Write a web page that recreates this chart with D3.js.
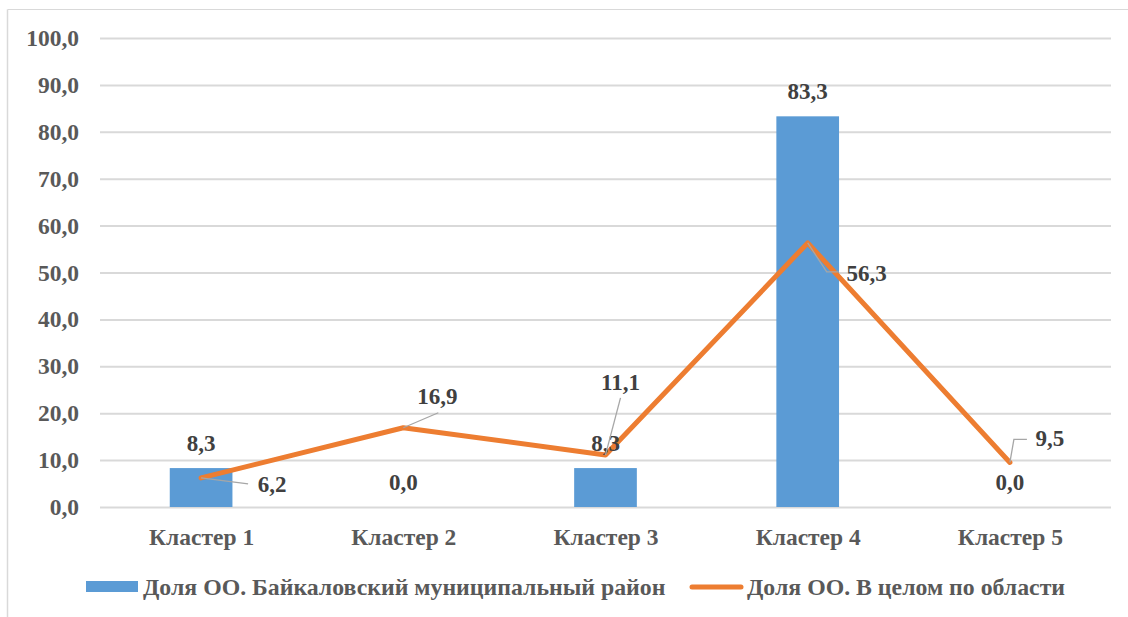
<!DOCTYPE html>
<html><head><meta charset="utf-8">
<script src="https://cdn.jsdelivr.net/npm/d3@7"></script>
<style>body{margin:0;background:#fff}svg{display:block}</style>
</head><body>
<svg id="c" width="1128" height="617"></svg>
<script>
const categories = ["Кластер 1","Кластер 2","Кластер 3","Кластер 4","Кластер 5"];
const barValues = [8.3, 0.0, 8.3, 83.3, 0.0];
const lineValues = [6.2, 16.9, 11.1, 56.3, 9.5];
const yTicks = [0,10,20,30,40,50,60,70,80,90,100];
const seriesNames = ["Доля ОО. Байкаловский муниципальный район","Доля ОО. В целом по области"];

const fmt = v => v.toFixed(1).replace(".", ",");
const svg = d3.select("#c");
const font = "Liberation Serif";

// chart frame (top and left edges visible)
svg.append("line").attr("x1",7.5).attr("x2",1128).attr("y1",9.5).attr("y2",9.5).attr("stroke","#d9d9d9");
svg.append("line").attr("x1",7.5).attr("x2",7.5).attr("y1",9.5).attr("y2",617).attr("stroke","#d9d9d9").attr("stroke-width",1.5);

const x = d3.scalePoint().domain(categories).range([100,1111]).padding(0.5);
const step = x.step();
const barW = step*0.31;
const y = d3.scaleLinear().domain([0,100]).range([507,38]);

// gridlines + y labels
const yAxis = d3.axisLeft(y).tickValues(yTicks).tickFormat(fmt).tickSize(-(1111-100));
const gy = svg.append("g").attr("transform","translate(100,0)").call(yAxis);
gy.attr("font-family",font);
gy.select(".domain").remove();
gy.selectAll(".tick line").attr("stroke","#d9d9d9").attr("stroke-width",2);
gy.selectAll(".tick text").style("font-family",font).attr("font-weight","bold").attr("font-size",23.5).attr("fill","#595959").attr("x",-21).attr("dy","0.32em");

// x axis labels
const xAxis = d3.axisBottom(x).tickSize(0).tickPadding(21);
const gx = svg.append("g").attr("transform","translate(0,507)").call(xAxis);
gx.attr("font-family",font);
gx.select(".domain").remove();
gx.selectAll(".tick text").style("font-family",font).attr("font-weight","bold").attr("font-size",23.5).attr("fill","#595959");

// bars
svg.append("g").selectAll("rect").data(barValues).join("rect")
  .attr("x",(d,i)=>x(categories[i])-barW/2)
  .attr("y",d=>y(d)).attr("width",barW).attr("height",d=>y(0)-y(d))
  .attr("fill","#5b9bd5");

// line
const line = d3.line().x((d,i)=>x(categories[i])).y(d=>y(d));
svg.append("path").datum(lineValues).attr("d",line).attr("fill","none")
  .attr("stroke","#ed7d31").attr("stroke-width",5).attr("stroke-linejoin","round").attr("stroke-linecap","round");

// bar labels
const labelStyle = s => s.style("font-family",font).attr("font-weight","bold").attr("font-size",23).attr("fill","#404040").attr("text-anchor","middle");
svg.append("g").selectAll("text").data(barValues).join("text")
  .attr("x",(d,i)=>x(categories[i]))
  .attr("y",d=>y(d)-17)
  .text(fmt).call(labelStyle);

// line labels with leader lines (offsets relative to the point: label center x, baseline y, leader path)
const lineLabelOffsets = [
  {lx:71, ly:14, leader:[[0,0],[47,6]]},
  {lx:34, ly:-24, leader:[[0,0],[35,-15]]},
  {lx:15, ly:-65, leader:[[0,0],[15,-57]]},
  {lx:59, ly:38, leader:[[0,0],[19,29],[31,29]]},
  {lx:40, ly:-16, leader:[[0,0],[4,-23],[17,-23]]}
];
const lg = svg.append("g");
lineValues.forEach((v,i)=>{
  const px = x(categories[i]), py = y(v), o = lineLabelOffsets[i];
  lg.append("path").attr("d", d3.line()(o.leader.map(p=>[px+p[0],py+p[1]])))
    .attr("fill","none").attr("stroke","#a6a6a6").attr("stroke-width",1.3);
  lg.append("text").attr("x",px+o.lx).attr("y",py+o.ly).text(fmt(v)).call(labelStyle);
});

// legend
const leg = svg.append("g");
leg.append("rect").attr("x",86).attr("y",581).attr("width",52).attr("height",11).attr("fill","#5b9bd5");
leg.append("text").attr("x",143).attr("y",595).text(seriesNames[0])
  .style("font-family",font).attr("font-weight","bold").attr("font-size",23.8).attr("fill","#595959");
leg.append("line").attr("x1",692).attr("x2",741).attr("y1",587).attr("y2",587)
  .attr("stroke","#ed7d31").attr("stroke-width",5).attr("stroke-linecap","round");
leg.append("text").attr("x",747).attr("y",595).text(seriesNames[1])
  .style("font-family",font).attr("font-weight","bold").attr("font-size",23.8).attr("fill","#595959");
</script>
</body></html>
